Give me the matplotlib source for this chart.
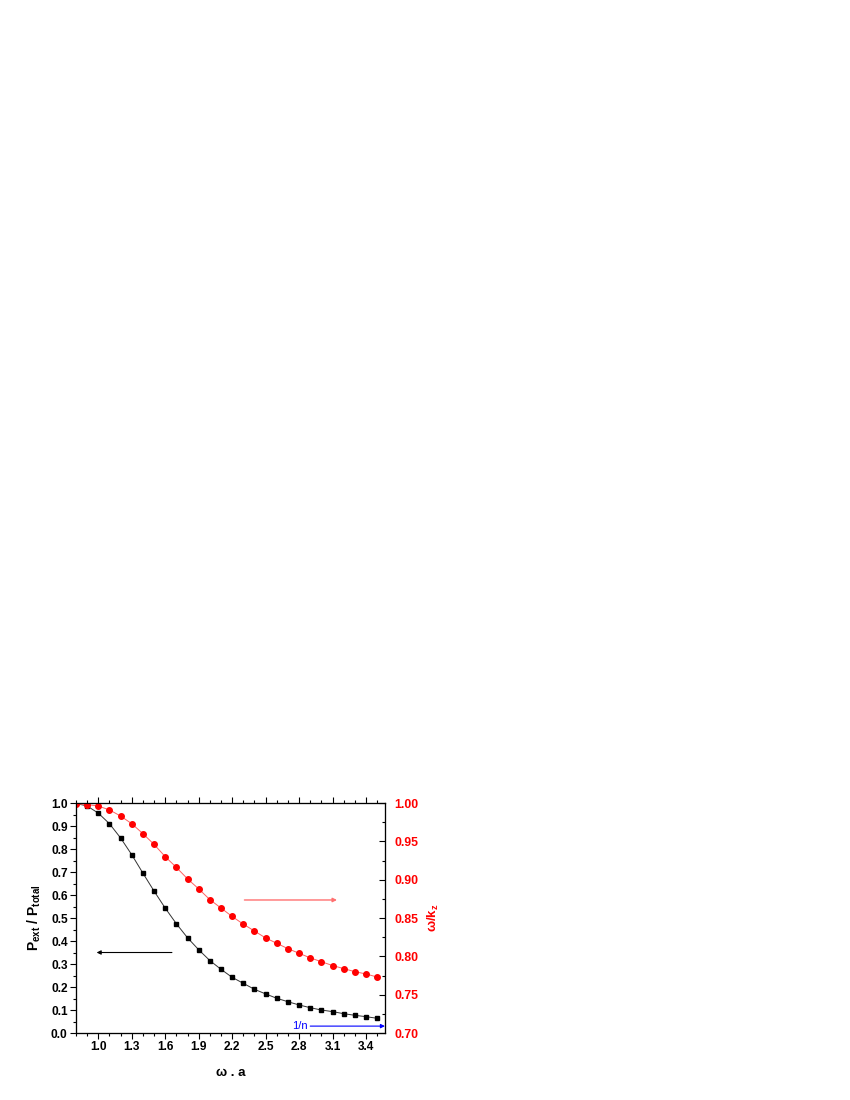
import matplotlib
matplotlib.use('Agg')
import matplotlib.pyplot as plt
import matplotlib.ticker as mtick
import numpy as np

plt.rcParams['font.family'] = ['Liberation Sans', 'DejaVu Sans']
plt.rcParams['mathtext.fontset'] = 'custom'
plt.rcParams['mathtext.rm'] = 'Liberation Sans:bold'
plt.rcParams['mathtext.it'] = 'Liberation Sans:bold'
plt.rcParams['mathtext.bf'] = 'Liberation Sans:bold'

# omega * a
wa = [0.8, 0.9, 1.0, 1.1, 1.2, 1.3, 1.4, 1.5, 1.6, 1.7, 1.8, 1.9, 2.0, 2.1,
      2.2, 2.3, 2.4, 2.5, 2.6, 2.7, 2.8, 2.9, 3.0, 3.1, 3.2, 3.3, 3.4, 3.5]
# P_ext / P_total (left axis)
p_ratio = [0.998, 0.987, 0.956, 0.910, 0.848, 0.775, 0.695, 0.617, 0.543, 0.475,
           0.414, 0.362, 0.315, 0.277, 0.242, 0.216, 0.190, 0.170, 0.151, 0.136,
           0.122, 0.110, 0.100, 0.093, 0.084, 0.077, 0.071, 0.064]
# omega / k_z (right axis)
w_kz = [0.999, 0.998, 0.996, 0.991, 0.983, 0.973, 0.960, 0.946, 0.930, 0.916,
        0.901, 0.888, 0.874, 0.863, 0.852, 0.842, 0.833, 0.824, 0.817, 0.810,
        0.804, 0.798, 0.793, 0.788, 0.784, 0.780, 0.777, 0.773]

fig = plt.figure(figsize=(8.5, 11), dpi=100)
ax = fig.add_axes([0.0894, 0.0609, 0.3635, 0.2091])
ax2 = ax.twinx()

ax.plot(wa, p_ratio, '-', color='#333333', linewidth=0.7,
        marker='s', markersize=3.4, markerfacecolor='black', markeredgecolor='black')
ax2.plot(wa, w_kz, '-', color='#ff6060', linewidth=0.7,
         marker='o', markersize=4.0, markerfacecolor='red', markeredgecolor='red')

ax.set_xlim(0.8, 3.57)
ax.set_ylim(0.0, 1.0)
ax2.set_ylim(0.70, 1.00)

ax.xaxis.set_major_locator(mtick.FixedLocator([1.0, 1.3, 1.6, 1.9, 2.2, 2.5, 2.8, 3.1, 3.4]))
ax.xaxis.set_minor_locator(mtick.MultipleLocator(0.1))
ax.xaxis.set_major_formatter(mtick.FormatStrFormatter('%.1f'))
ax.yaxis.set_major_locator(mtick.MultipleLocator(0.1))
ax.yaxis.set_minor_locator(mtick.MultipleLocator(0.05))
ax.yaxis.set_major_formatter(mtick.FormatStrFormatter('%.1f'))
ax2.yaxis.set_major_locator(mtick.MultipleLocator(0.05))
ax2.yaxis.set_minor_locator(mtick.MultipleLocator(0.025))
ax2.yaxis.set_major_formatter(mtick.FormatStrFormatter('%.2f'))

ax.tick_params(axis='both', which='major', direction='out', length=4, width=0.8,
               labelsize=8.6, pad=2)
ax.tick_params(axis='both', which='minor', direction='out', length=2, width=0.8)
ax.tick_params(axis='x', which='both', top=True)
for t in ax.get_xticklabels() + ax.get_yticklabels():
    t.set_fontweight('bold')
ax2.tick_params(axis='y', which='major', direction='in', length=4, width=0.8,
                labelsize=8.8, labelcolor='red', pad=7)
ax2.tick_params(axis='y', which='minor', direction='in', length=2, width=0.8)
for t in ax2.get_yticklabels():
    t.set_fontweight('bold')

for sp in ax.spines.values():
    sp.set_linewidth(0.9)
    sp.set_color('#333333')

ax.set_xlabel('ω . a', fontsize=9.5, fontweight='bold', labelpad=10)
ax.set_ylabel(r'P$_{\mathbf{ext}}$ / P$_{\mathbf{total}}$', fontsize=10,
              fontweight='bold', labelpad=6)
ax2.set_ylabel(r'ω/k$_{\mathbf{z}}$', fontsize=9.5, fontweight='bold',
               color='red', labelpad=5)

# direction arrows
ax.annotate('', xy=(0.985, 0.35), xytext=(1.66, 0.35),
            arrowprops=dict(arrowstyle='-|>', color='black', lw=0.8,
                            mutation_scale=6, shrinkA=0, shrinkB=0))
ax2.annotate('', xy=(3.14, 0.8735), xytext=(2.31, 0.8735),
             arrowprops=dict(arrowstyle='-|>', color='#ff7070', lw=1.0,
                             mutation_scale=6, shrinkA=0, shrinkB=0))
ax.annotate('', xy=(3.57, 0.03), xytext=(2.90, 0.03),
            arrowprops=dict(arrowstyle='-|>', color='blue', lw=0.8,
                            mutation_scale=6, shrinkA=0, shrinkB=0),
            annotation_clip=False)
ax.text(2.88, 0.03, '1/n', color='blue', fontsize=8, ha='right', va='center')

plt.savefig('out.png', dpi=100)
